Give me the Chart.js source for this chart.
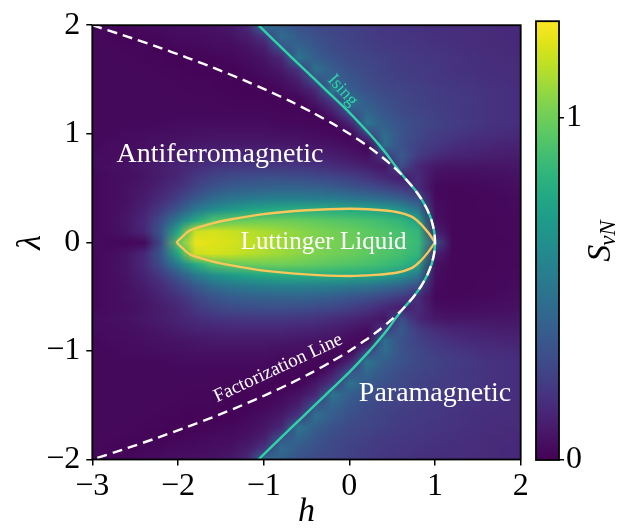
<!DOCTYPE html>
<html>
<head>
<meta charset="utf-8">
<script src="https://cdn.jsdelivr.net/npm/chart.js@4.4.1/dist/chart.umd.min.js"></script>
<style>
  html, body { margin: 0; padding: 0; background: #fff; }
  #wrap { position: relative; width: 626px; height: 529px; }
  #wrap canvas { position: absolute; left: 0; top: 0; }
</style>
</head>
<body>
<div id="wrap">
  <canvas id="phase" width="626" height="529"></canvas>
  <canvas id="cbar" width="626" height="529"></canvas>
</div>
<script>
// h grid (columns) and lambda grid (rows) of the entropy map
const hValues = [-3.0,-2.8,-2.6,-2.4,-2.2,-2.0,-1.8,-1.6,-1.4,-1.2,-1.0,-0.8,-0.6,-0.4,-0.2,0.0,0.2,0.4,0.6,0.8,1.0,1.2,1.4,1.6,1.8,2.0];
const lambdaValues = [2.0,1.9,1.8,1.7,1.6,1.5,1.4,1.3,1.2,1.1,1.0,0.9,0.8,0.7,0.6,0.5,0.4,0.3,0.2,0.1,0.0,
                      -0.1,-0.2,-0.3,-0.4,-0.5,-0.6,-0.7,-0.8,-0.9,-1.0,-1.1,-1.2,-1.3,-1.4,-1.5,-1.6,-1.7,-1.8,-1.9,-2.0];

// S_vN, one row per |lambda|
const lam20 = [0.02,0.03,0.03,0.04,0.04,0.05,0.05,0.06,0.08,0.14,0.48,0.38,0.32,0.28,0.26,0.24,0.22,0.20,0.19,0.18,0.17,0.17,0.16,0.16,0.15,0.15];
const lam19 = [0.03,0.02,0.01,0.02,0.03,0.04,0.04,0.05,0.06,0.10,0.20,0.46,0.36,0.31,0.28,0.25,0.23,0.21,0.20,0.19,0.18,0.17,0.17,0.16,0.15,0.15];
const lam18 = [0.03,0.03,0.02,0.02,0.01,0.02,0.03,0.04,0.04,0.06,0.11,0.33,0.42,0.34,0.29,0.26,0.24,0.22,0.21,0.20,0.19,0.18,0.17,0.16,0.16,0.15];
const lam17 = [0.03,0.03,0.03,0.02,0.02,0.01,0.01,0.02,0.03,0.04,0.07,0.14,0.50,0.38,0.32,0.28,0.26,0.24,0.22,0.21,0.20,0.19,0.18,0.17,0.16,0.16];
const lam16 = [0.03,0.03,0.03,0.03,0.02,0.02,0.01,0.01,0.01,0.03,0.05,0.09,0.20,0.48,0.37,0.31,0.28,0.25,0.23,0.22,0.21,0.19,0.18,0.17,0.17,0.16];
const lam15 = [0.03,0.03,0.03,0.03,0.03,0.02,0.02,0.02,0.01,0.01,0.03,0.05,0.11,0.33,0.42,0.34,0.29,0.26,0.24,0.23,0.21,0.20,0.19,0.18,0.17,0.16];
const lam14 = [0.03,0.03,0.03,0.03,0.03,0.03,0.02,0.02,0.02,0.01,0.01,0.03,0.06,0.14,0.50,0.38,0.32,0.28,0.26,0.24,0.23,0.21,0.20,0.19,0.18,0.17];
const lam13 = [0.03,0.03,0.03,0.03,0.03,0.03,0.03,0.03,0.02,0.02,0.02,0.01,0.01,0.08,0.20,0.48,0.37,0.31,0.28,0.25,0.23,0.22,0.21,0.19,0.18,0.17];
const lam12 = [0.03,0.03,0.03,0.03,0.03,0.03,0.03,0.03,0.03,0.03,0.03,0.02,0.02,0.01,0.10,0.33,0.42,0.34,0.29,0.26,0.24,0.22,0.20,0.19,0.18,0.17];
const lam11 = [0.03,0.03,0.03,0.03,0.03,0.04,0.04,0.04,0.04,0.04,0.04,0.03,0.03,0.02,0.01,0.13,0.50,0.38,0.32,0.28,0.25,0.23,0.21,0.19,0.18,0.17];
const lam10 = [0.03,0.03,0.04,0.04,0.05,0.05,0.06,0.06,0.06,0.06,0.06,0.05,0.05,0.04,0.03,0.01,0.24,0.45,0.33,0.27,0.23,0.21,0.19,0.17,0.16,0.15];
const lam09 = [0.03,0.04,0.04,0.05,0.06,0.07,0.08,0.09,0.09,0.09,0.09,0.09,0.08,0.07,0.06,0.04,0.02,0.46,0.32,0.25,0.21,0.17,0.15,0.14,0.13,0.12];
const lam08 = [0.04,0.04,0.05,0.06,0.08,0.10,0.12,0.13,0.14,0.14,0.14,0.14,0.13,0.12,0.10,0.08,0.05,0.20,0.36,0.22,0.16,0.13,0.12,0.11,0.10,0.10];
const lam07 = [0.04,0.05,0.06,0.08,0.10,0.13,0.16,0.19,0.20,0.21,0.21,0.21,0.20,0.19,0.17,0.14,0.11,0.07,0.30,0.14,0.08,0.07,0.07,0.07,0.07,0.08];
const lam06 = [0.03,0.04,0.05,0.07,0.10,0.14,0.21,0.26,0.29,0.30,0.31,0.31,0.30,0.29,0.27,0.24,0.20,0.15,0.10,0.16,0.05,0.04,0.04,0.05,0.05,0.06];
const lam05 = [0.03,0.04,0.06,0.08,0.13,0.18,0.26,0.33,0.37,0.39,0.40,0.41,0.41,0.40,0.38,0.34,0.31,0.27,0.22,0.16,0.03,0.02,0.03,0.03,0.04,0.05];
const lam04 = [0.03,0.04,0.06,0.10,0.16,0.25,0.36,0.45,0.50,0.53,0.55,0.56,0.56,0.55,0.54,0.52,0.49,0.45,0.40,0.30,0.04,0.02,0.02,0.03,0.03,0.04];
const lam03 = [0.03,0.04,0.07,0.12,0.22,0.35,0.52,0.62,0.69,0.74,0.77,0.79,0.80,0.80,0.79,0.78,0.76,0.73,0.65,0.50,0.05,0.02,0.02,0.03,0.03,0.04];
const lam02 = [0.03,0.04,0.08,0.15,0.30,0.55,0.78,0.92,0.97,0.99,1.00,1.00,0.99,0.97,0.95,0.93,0.91,0.88,0.84,0.74,0.06,0.02,0.02,0.02,0.03,0.03];
const lam01 = [0.03,0.04,0.07,0.14,0.35,0.78,1.18,1.20,1.18,1.15,1.12,1.09,1.06,1.03,1.01,0.99,0.96,0.93,0.90,0.84,0.12,0.02,0.02,0.02,0.03,0.03];
const lam00 = [0.04,0.03,0.02,0.03,0.30,0.95,1.24,1.22,1.20,1.17,1.14,1.10,1.07,1.04,1.02,1.00,0.97,0.94,0.91,0.86,0.30,0.02,0.02,0.02,0.02,0.03];

// the map is symmetric in lambda: lower rows are the same readings
const entropyGrid = [lam20,lam19,lam18,lam17,lam16,lam15,lam14,lam13,lam12,lam11,lam10,lam09,lam08,lam07,lam06,lam05,lam04,lam03,lam02,lam01,lam00,
                     lam01,lam02,lam03,lam04,lam05,lam06,lam07,lam08,lam09,lam10,lam11,lam12,lam13,lam14,lam15,lam16,lam17,lam18,lam19,lam20];

// factorization line (dashed)
const factorH      = [-3.0,-2.61,-2.24,-1.89,-1.56,-1.25,-0.96,-0.69,-0.44,-0.21,0.0,0.19,0.36,0.51,0.64,0.75,0.84,0.91,0.96,0.99,1.0,
                      0.99,0.96,0.91,0.84,0.75,0.64,0.51,0.36,0.19,0.0,-0.21,-0.44,-0.69,-0.96,-1.25,-1.56,-1.89,-2.24,-2.61,-3.0];
const factorLambda = [2.0,1.9,1.8,1.7,1.6,1.5,1.4,1.3,1.2,1.1,1.0,0.9,0.8,0.7,0.6,0.5,0.4,0.3,0.2,0.1,0.0,
                      -0.1,-0.2,-0.3,-0.4,-0.5,-0.6,-0.7,-0.8,-0.9,-1.0,-1.1,-1.2,-1.3,-1.4,-1.5,-1.6,-1.7,-1.8,-1.9,-2.0];
// Ising critical line
const isingH      = [-1.06,-0.80,-0.535,-0.27,-0.005,0.235,0.345,0.448,0.54,0.64,0.75,0.84,0.91,0.96,0.99,1.0,
                     0.99,0.96,0.91,0.84,0.75,0.64,0.54,0.448,0.345,0.235,-0.005,-0.27,-0.535,-0.80,-1.06];
const isingLambda = [2.0,1.8,1.6,1.4,1.2,1.0,0.9,0.8,0.7,0.6,0.5,0.4,0.3,0.2,0.1,0.0,
                     -0.1,-0.2,-0.3,-0.4,-0.5,-0.6,-0.7,-0.8,-0.9,-1.0,-1.2,-1.4,-1.6,-1.8,-2.0];
// Luttinger liquid contour
const luttH      = [1.0,0.92,0.82,0.72,0.55,0.3,0.0,-0.5,-1.0,-1.39,-1.6,-1.86,-1.95,-2.01,
                    -1.95,-1.86,-1.6,-1.39,-1.0,-0.5,0.0,0.3,0.55,0.72,0.82,0.92,1.0];
const luttLambda = [0.0,0.09,0.18,0.24,0.28,0.30,0.31,0.295,0.26,0.21,0.175,0.11,0.05,0.0,
                    -0.05,-0.11,-0.175,-0.21,-0.26,-0.295,-0.31,-0.30,-0.28,-0.24,-0.18,-0.09,0.0];

const hTicks = [-3, -2, -1, 0, 1, 2];
const lambdaTicks = [-2, -1, 0, 1, 2];
const colorbarTicks = [0, 1];
const S_MAX = 1.282;

const SERIF = "'Liberation Serif', 'Times New Roman', serif";

const viridisStops = ['#440154','#471365','#482475','#463480','#414487','#3b528b','#355f8d','#2f6c8e','#2a788e','#25848e',
  '#21918c','#1e9c89','#22a884','#2fb47c','#44bf70','#5ec962','#7ad151','#9bd93c','#bddf26','#dfe318','#fde725'];
const viridisRGB = viridisStops.map(c => [parseInt(c.slice(1,3),16), parseInt(c.slice(3,5),16), parseInt(c.slice(5,7),16)]);
function viridis(t) {
  t = Math.max(0, Math.min(1, t));
  const p = t * (viridisRGB.length - 1);
  const i = Math.min(Math.floor(p), viridisRGB.length - 2);
  const f = p - i;
  const a = viridisRGB[i], b = viridisRGB[i + 1];
  return [0,1,2].map(k => Math.round(a[k] + (b[k] - a[k]) * f));
}

function fmt(v) { return v < 0 ? '\u2212' + Math.abs(v) : String(v); }
function pts(xs, ys) { return xs.map((x, i) => ({x: x, y: ys[i]})); }

const heatmap = {
  id: 'heatmap',
  beforeDatasetsDraw(chart) {
    const {ctx, chartArea, scales: {x, y}} = chart;
    const nx = hValues.length, ny = lambdaValues.length;
    const off = document.createElement('canvas');
    off.width = nx; off.height = ny;
    const octx = off.getContext('2d');
    const img = octx.createImageData(nx, ny);
    entropyGrid.forEach((row, j) => row.forEach((v, i) => {
      const c = viridis(v / S_MAX);
      const k = (j * nx + i) * 4;
      img.data[k] = c[0]; img.data[k + 1] = c[1]; img.data[k + 2] = c[2]; img.data[k + 3] = 255;
    }));
    octx.putImageData(img, 0, 0);
    const dh = (hValues[1] - hValues[0]) / 2;
    const dl = (lambdaValues[0] - lambdaValues[1]) / 2;
    const left = x.getPixelForValue(hValues[0] - dh);
    const right = x.getPixelForValue(hValues[nx - 1] + dh);
    const top = y.getPixelForValue(lambdaValues[0] + dl);
    const bottom = y.getPixelForValue(lambdaValues[ny - 1] - dl);
    ctx.save();
    ctx.beginPath();
    ctx.rect(chartArea.left, chartArea.top, chartArea.width, chartArea.height);
    ctx.clip();
    ctx.imageSmoothingEnabled = true;
    ctx.drawImage(off, left, top, right - left, bottom - top);
    ctx.restore();
  }
};

function label(ctx, text, px, py, size, color, angle) {
  ctx.save();
  ctx.translate(px, py);
  ctx.rotate(angle * Math.PI / 180);
  ctx.font = size + 'px ' + SERIF;
  ctx.fillStyle = color;
  ctx.textAlign = 'center';
  ctx.textBaseline = 'middle';
  ctx.fillText(text, 0, 0);
  ctx.restore();
}

const annotations = {
  id: 'annotations',
  afterDatasetsDraw(chart) {
    const {ctx, chartArea: a, scales: {x, y}} = chart;
    label(ctx, 'Antiferromagnetic', x.getPixelForValue(-1.51), y.getPixelForValue(0.81), 28, '#ffffff', 0);
    label(ctx, 'Luttinger Liquid', x.getPixelForValue(-0.30), y.getPixelForValue(0.0), 25, '#ffffff', 0);
    label(ctx, 'Paramagnetic', x.getPixelForValue(1.0), y.getPixelForValue(-1.39), 28, '#ffffff', 0);
    label(ctx, 'Factorization Line', x.getPixelForValue(-0.83), y.getPixelForValue(-1.16), 19, '#ffffff', -25);
    label(ctx, 'Ising', x.getPixelForValue(-0.08), y.getPixelForValue(1.40), 18, '#2ed3a8', 48);
    ctx.save();
    ctx.strokeStyle = '#000';
    ctx.lineWidth = 1.8;
    ctx.strokeRect(a.left, a.top, a.right - a.left, a.bottom - a.top);
    ctx.restore();
  }
};

const tickFont = {family: SERIF, size: 32};

new Chart(document.getElementById('phase'), {
  type: 'scatter',
  data: {
    datasets: [
      {label: 'Factorization Line', data: pts(factorH, factorLambda), showLine: true, pointRadius: 0,
       borderColor: '#ffffff', borderWidth: 2.4, borderDash: [10, 6], tension: 0.2},
      {label: 'Ising', data: pts(isingH, isingLambda), showLine: true, pointRadius: 0,
       borderColor: '#2ed3a8', borderWidth: 2.4, tension: 0.15},
      {label: 'Luttinger Liquid', data: pts(luttH, luttLambda), showLine: true, pointRadius: 0,
       borderColor: '#f8c65a', borderWidth: 2.4, tension: 0.25}
    ]
  },
  options: {
    responsive: false,
    animation: false,
    events: [],
    layout: {padding: {left: 0, right: 105.3, top: 19.5, bottom: 0}},
    plugins: {legend: {display: false}, tooltip: {enabled: false}},
    scales: {
      x: {
        type: 'linear', min: -3, max: 2,
        afterBuildTicks: s => { s.ticks = hTicks.map(v => ({value: v})); },
        afterFit: s => { s.height = 69.5; },
        ticks: {font: tickFont, color: '#000', callback: v => fmt(v), padding: 2, maxRotation: 0, autoSkip: false},
        grid: {drawOnChartArea: false, color: '#000', lineWidth: 1.5, tickLength: 6},
        border: {display: false},
        title: {display: true, text: 'h', color: '#000', padding: 0,
                font: {family: SERIF, size: 34, style: 'italic', lineHeight: 1}}
      },
      y: {
        type: 'linear', min: -2, max: 2,
        afterBuildTicks: s => { s.ticks = lambdaTicks.map(v => ({value: v})); },
        afterFit: s => { s.width = 92.3; },
        ticks: {font: tickFont, color: '#000', callback: v => fmt(v), padding: 6, autoSkip: false},
        grid: {drawOnChartArea: false, color: '#000', lineWidth: 1.5, tickLength: 6},
        border: {display: false},
        title: {display: true, text: '\u03bb', color: '#000', padding: {top: 14, bottom: 0},
                font: {family: SERIF, size: 34, style: 'italic', lineHeight: 1}}
      }
    }
  },
  plugins: [heatmap, annotations]
});

const colorbar = {
  id: 'colorbar',
  beforeDatasetsDraw(chart) {
    const {ctx, chartArea: a, scales: {y}} = chart;
    const g = ctx.createLinearGradient(0, y.getPixelForValue(0), 0, y.getPixelForValue(S_MAX));
    viridisStops.forEach((c, i) => g.addColorStop(i / (viridisStops.length - 1), c));
    ctx.save();
    ctx.fillStyle = g;
    ctx.fillRect(a.left, a.top, a.right - a.left, a.bottom - a.top);
    ctx.restore();
  },
  afterDatasetsDraw(chart) {
    const {ctx, chartArea: a} = chart;
    ctx.save();
    ctx.strokeStyle = '#000';
    ctx.lineWidth = 1.8;
    ctx.strokeRect(a.left, a.top, a.right - a.left, a.bottom - a.top);
    // colorbar label S_vN, rotated
    ctx.translate(610, (a.top + a.bottom) / 2);
    ctx.rotate(-Math.PI / 2);
    ctx.fillStyle = '#000';
    ctx.textBaseline = 'alphabetic';
    const bigF = 'italic 34px ' + SERIF, subF = 'italic 23px ' + SERIF;
    ctx.font = bigF; const w1 = ctx.measureText('S').width;
    ctx.font = subF; const w2 = ctx.measureText('vN').width;
    const x0 = -(w1 + w2) / 2;
    ctx.font = bigF; ctx.fillText('S', x0, 0);
    ctx.font = subF; ctx.fillText('vN', x0 + w1 - 1, 5);
    ctx.restore();
  }
};

new Chart(document.getElementById('cbar'), {
  type: 'scatter',
  data: {datasets: []},
  options: {
    responsive: false,
    animation: false,
    events: [],
    layout: {padding: {left: 536, right: 0, top: 19, bottom: 69}},
    plugins: {legend: {display: false}, tooltip: {enabled: false}},
    scales: {
      x: {display: false, min: 0, max: 1},
      y: {
        position: 'right', min: 0, max: S_MAX,
        afterBuildTicks: s => { s.ticks = colorbarTicks.map(v => ({value: v})); },
        afterFit: s => { s.width = 67; },
        ticks: {font: tickFont, color: '#000', padding: 2, autoSkip: false},
        grid: {drawOnChartArea: false, color: '#000', lineWidth: 1.5, tickLength: 5},
        border: {display: false}
      }
    }
  },
  plugins: [colorbar]
});
</script>
</body>
</html>
